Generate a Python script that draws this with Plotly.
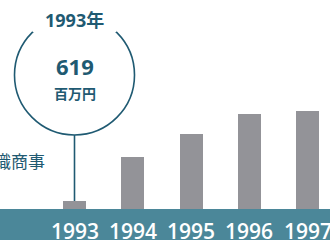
import plotly.graph_objects as go

years = [1993, 1994, 1995, 1996, 1997]
year_labels = ["1993", "1994", "1995", "1996", "1997"]
sales = [619, 3650, 5230, 6600, 6810]  # 百万円 (estimated except 1993)
highlight_year_label = "1993年"
highlight_value = "619"
unit_label = "百万円"
company_label = "織商事"

W, H = 330, 240
k = 68.8                     # value units per pixel
base_px = 210                # pixel row of value 0
ymin = -(H - base_px) * k
ymax = base_px * k
spacing = 58.25              # pixels between years
x0_px = 74.5
xmin = years[0] - x0_px / spacing
xmax = xmin + W / spacing

dark = "#1f5a72"
band = "#4b8799"
grey = "#939398"
font_latin = "Open Sans, Noto Sans CJK JP, sans-serif"
font_cjk = "Noto Sans CJK JP, sans-serif"

fig = go.Figure()
fig.add_trace(go.Bar(x=years, y=sales, width=23 / spacing,
                     marker=dict(color=grey, line=dict(width=0)),
                     hoverinfo="skip"))

# teal band at the bottom
fig.add_shape(type="rect", xref="paper", yref="paper", x0=0, x1=1,
              y0=0, y1=(H - base_px + 1) / H, fillcolor=band,
              line=dict(width=0), layer="above")

# highlight circle for the first year
r_px = 60
cy_px = 75
cx = years[0]
cy = (base_px - cy_px) * k
rx = r_px / spacing
ry = r_px * k
fig.add_shape(type="circle", xref="x", yref="y",
              x0=cx - rx, x1=cx + rx, y0=cy - ry, y1=cy + ry,
              line=dict(color=dark, width=1.6), layer="above")
# gap in the circle at the top where the label sits
fig.add_shape(type="rect", xref="x", yref="y",
              x0=cx - 42 / spacing, x1=cx + 42 / spacing,
              y0=(base_px - 32) * k, y1=(base_px - 5) * k,
              fillcolor="white", line=dict(width=0), layer="above")
# connector line from circle to bar
fig.add_shape(type="line", xref="x", yref="y",
              x0=cx, x1=cx, y0=cy - ry, y1=sales[0],
              line=dict(color=dark, width=1.6), layer="above")

ann = []
ann.append(dict(x=cx, y=1 - 20 / H, xref="x", yref="paper",
                text=highlight_year_label, showarrow=False,
                font=dict(family=font_latin, size=18, color=dark, weight="bold"),
                xanchor="center", yanchor="middle"))
ann.append(dict(x=cx, y=1 - 66 / H, xref="x", yref="paper",
                text=highlight_value, showarrow=False,
                font=dict(family=font_latin, size=22, color=dark, weight="bold"),
                xanchor="center", yanchor="middle"))
ann.append(dict(x=cx, y=1 - 93 / H, xref="x", yref="paper",
                text=unit_label, showarrow=False,
                font=dict(family=font_cjk, size=14, color=dark, weight="bold"),
                xanchor="center", yanchor="middle"))
ann.append(dict(x=47 / W, y=1 - 160 / H, xref="paper", yref="paper",
                text=company_label, showarrow=False,
                font=dict(family=font_cjk, size=17, color=dark),
                xanchor="right", yanchor="middle"))
for yv, lbl in zip(years, year_labels):
    ann.append(dict(x=yv, y=1 - 231 / H, xref="x", yref="paper",
                    text=lbl, showarrow=False,
                    font=dict(family=font_latin, size=21, color="white", weight=600),
                    xanchor="center", yanchor="middle"))

fig.update_layout(
    width=W, height=H, margin=dict(l=0, r=0, t=0, b=0),
    paper_bgcolor="white", plot_bgcolor="white",
    showlegend=False, annotations=ann,
    xaxis=dict(range=[xmin, xmax], visible=False, fixedrange=True),
    yaxis=dict(range=[ymin, ymax], visible=False, fixedrange=True),
    bargap=0,
)

fig.write_html("out.html", config={"displayModeBar": False},
               post_script="document.body.style.margin='0';document.body.style.overflow='hidden';")
